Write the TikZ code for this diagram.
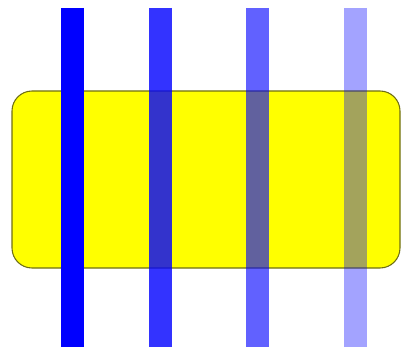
\documentclass[tikz,border=0pt]{standalone}
\usepackage{xcolor}
\usepackage{tikz}
\definecolor{panelyellow}{RGB}{255,255,0}
\definecolor{barblue}{RGB}{0,0,255}
\definecolor{paneledge}{RGB}{110,110,20}
\tikzset{
  panel/.style={rectangle, draw=paneledge, fill=panelyellow, line width=0.6pt, rounded corners=4mm},
  bar/.style={draw=barblue, line width=0.46cm}
}
\begin{document}
\begin{tikzpicture}
  \useasboundingbox (0,0) rectangle (8.2,-7.02);
  \draw[panel] (0.24,-1.82) rectangle (8.0,-5.36);
  \foreach \x/\op in {1.45/1, 3.21/0.8, 5.15/0.62, 7.11/0.36}
    \draw[bar, opacity=\op] (\x,-0.16) -- (\x,-6.94);
\end{tikzpicture}
\end{document}
